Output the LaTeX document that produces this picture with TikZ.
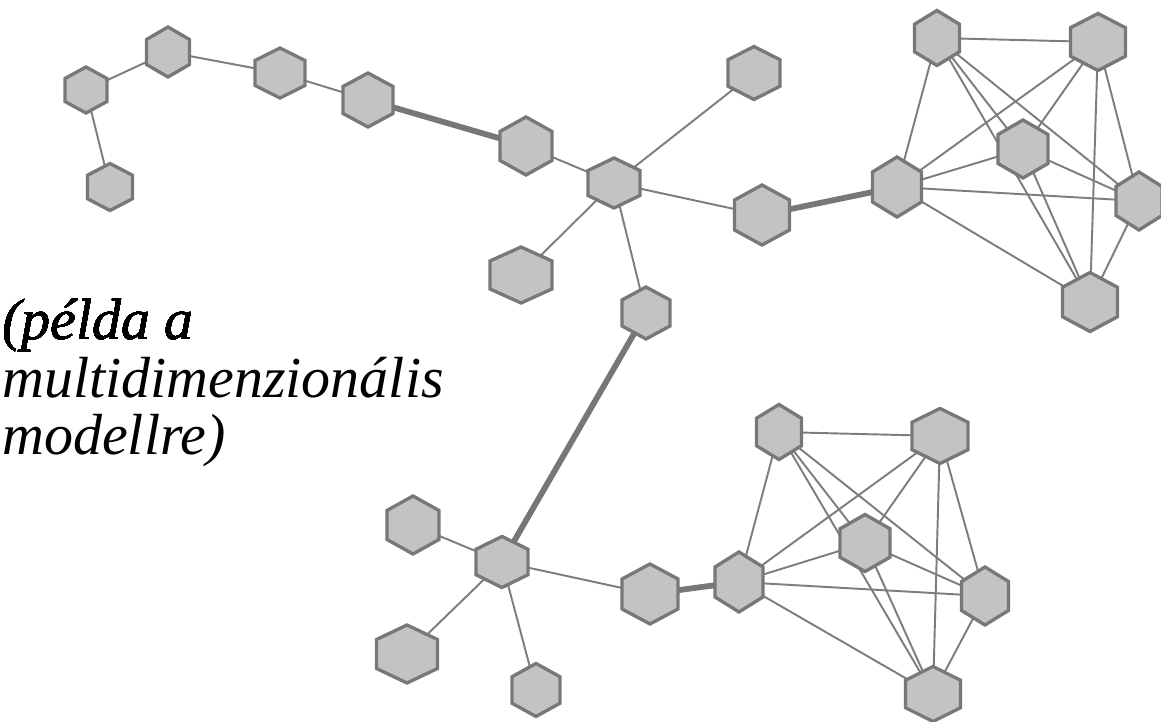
\documentclass[tikz,border=0pt]{standalone}
\usepackage{fontspec}
\newfontfamily\capfont{Liberation Serif}[UprightFont={* Italic}]
\usetikzlibrary{calc}
\definecolor{hexfill}{RGB}{195,195,195}
\definecolor{hexline}{RGB}{120,120,120}
\definecolor{edgecol}{RGB}{125,125,125}
\tikzset{
  hexbox/.style={rectangle, inner sep=0pt, outer sep=0pt},
  hexface/.style={fill=hexfill, draw=hexline, line width=1.9pt, line join=miter},
  thinedge/.style={draw=edgecol, line width=1.1pt},
  thickedge/.style={draw=edgecol!95!black, line width=3.3pt},
  caption/.style={font=\capfont\fontsize{33}{33}\selectfont, anchor=base west, inner sep=0pt}
}
\newcommand\hexat[5]{\node[hexbox, minimum width={0.02cm*#4}, minimum height={0.02cm*#5}] (#1) at (#2,#3) {};}
\newcommand\hexdraw[1]{\draw[hexface] (#1.north) -- ($(#1.north east)!0.25!(#1.south east)$) -- ($(#1.north east)!0.75!(#1.south east)$) -- (#1.south) -- ($(#1.south west)!0.25!(#1.north west)$) -- ($(#1.south west)!0.75!(#1.north west)$) -- cycle;}
\begin{document}
\begin{tikzpicture}[x=0.02cm, y=-0.02cm]
\useasboundingbox[fill=white] (0,0) rectangle (1161,722);
% nodes
\hexat{n1}{86}{90}{42}{46}
\hexat{n2}{168}{52}{43}{50}
\hexat{n3}{110}{187}{45}{47}
\hexat{n4}{280}{73}{50}{50}
\hexat{n5}{368}{100}{50}{54}
\hexat{n6}{526}{146}{52}{58}
\hexat{h1}{614}{183}{52}{50}
\hexat{n7}{754}{73}{52}{53}
\hexat{n8}{762}{215}{55}{60}
\hexat{n9}{521}{275}{62}{56}
\hexat{n10}{646}{313}{48}{52}
% top cluster
\hexat{A}{937}{38}{45}{55}
\hexat{B}{1098}{42}{55}{57}
\hexat{C}{1023}{149}{50}{58}
\hexat{D}{897}{187}{49}{60}
\hexat{E}{1139}{201}{46}{58}
\hexat{F}{1090}{302}{55}{59}
% bottom cluster
\hexat{Ab}{779}{432}{45}{55}
\hexat{Bb}{940}{436}{56}{55}
\hexat{Cb}{865}{543}{50}{57}
\hexat{Db}{739}{582}{48}{60}
\hexat{Eb}{985}{596}{47}{58}
\hexat{Fb}{933}{694}{55}{55}
% bottom left star
\hexat{h2}{502}{562}{52}{51}
\hexat{m1}{413}{525}{52}{58}
\hexat{m2}{407}{654}{61}{58}
\hexat{m3}{536}{690}{48}{53}
\hexat{m4}{650}{594}{56}{60}
% thin edges
\foreach \a/\b in {n3/n1, n1/n2, n2/n4, n4/n5, n6/h1, h1/n7, h1/n8, h1/n9, h1/n10,
  h2/m1, h2/m2, h2/m3, h2/m4,
  A/B, A/C, A/D, A/E, A/F, B/C, B/D, B/E, B/F, C/D, C/E, C/F, D/E, D/F, E/F,
  Ab/Bb, Ab/Cb, Ab/Db, Ab/Eb, Ab/Fb, Bb/Cb, Bb/Db, Bb/Eb, Bb/Fb, Cb/Db, Cb/Eb, Cb/Fb, Db/Eb, Db/Fb, Eb/Fb}
  \draw[thinedge] (\a.center) -- (\b.center);
% thick edges
\foreach \a/\b in {n5/n6, n8/D, n10/h2, m4/Db}
  \draw[thickedge] (\a.center) -- (\b.center);
% hexagons on top
\foreach \n in {n1,n2,n3,n4,n5,n6,h1,n7,n8,n9,n10,A,B,C,D,E,F,Ab,Bb,Cb,Db,Eb,Fb,h2,m1,m2,m3,m4}
  \hexdraw{\n}
% caption
\node[caption] (t1) at (2,340) {(példa a};
\node[caption] (t2) at (2,398) {multidimenzionális};
\node[caption] (t3) at (2,455) {modellre)};
\end{tikzpicture}
\end{document}
